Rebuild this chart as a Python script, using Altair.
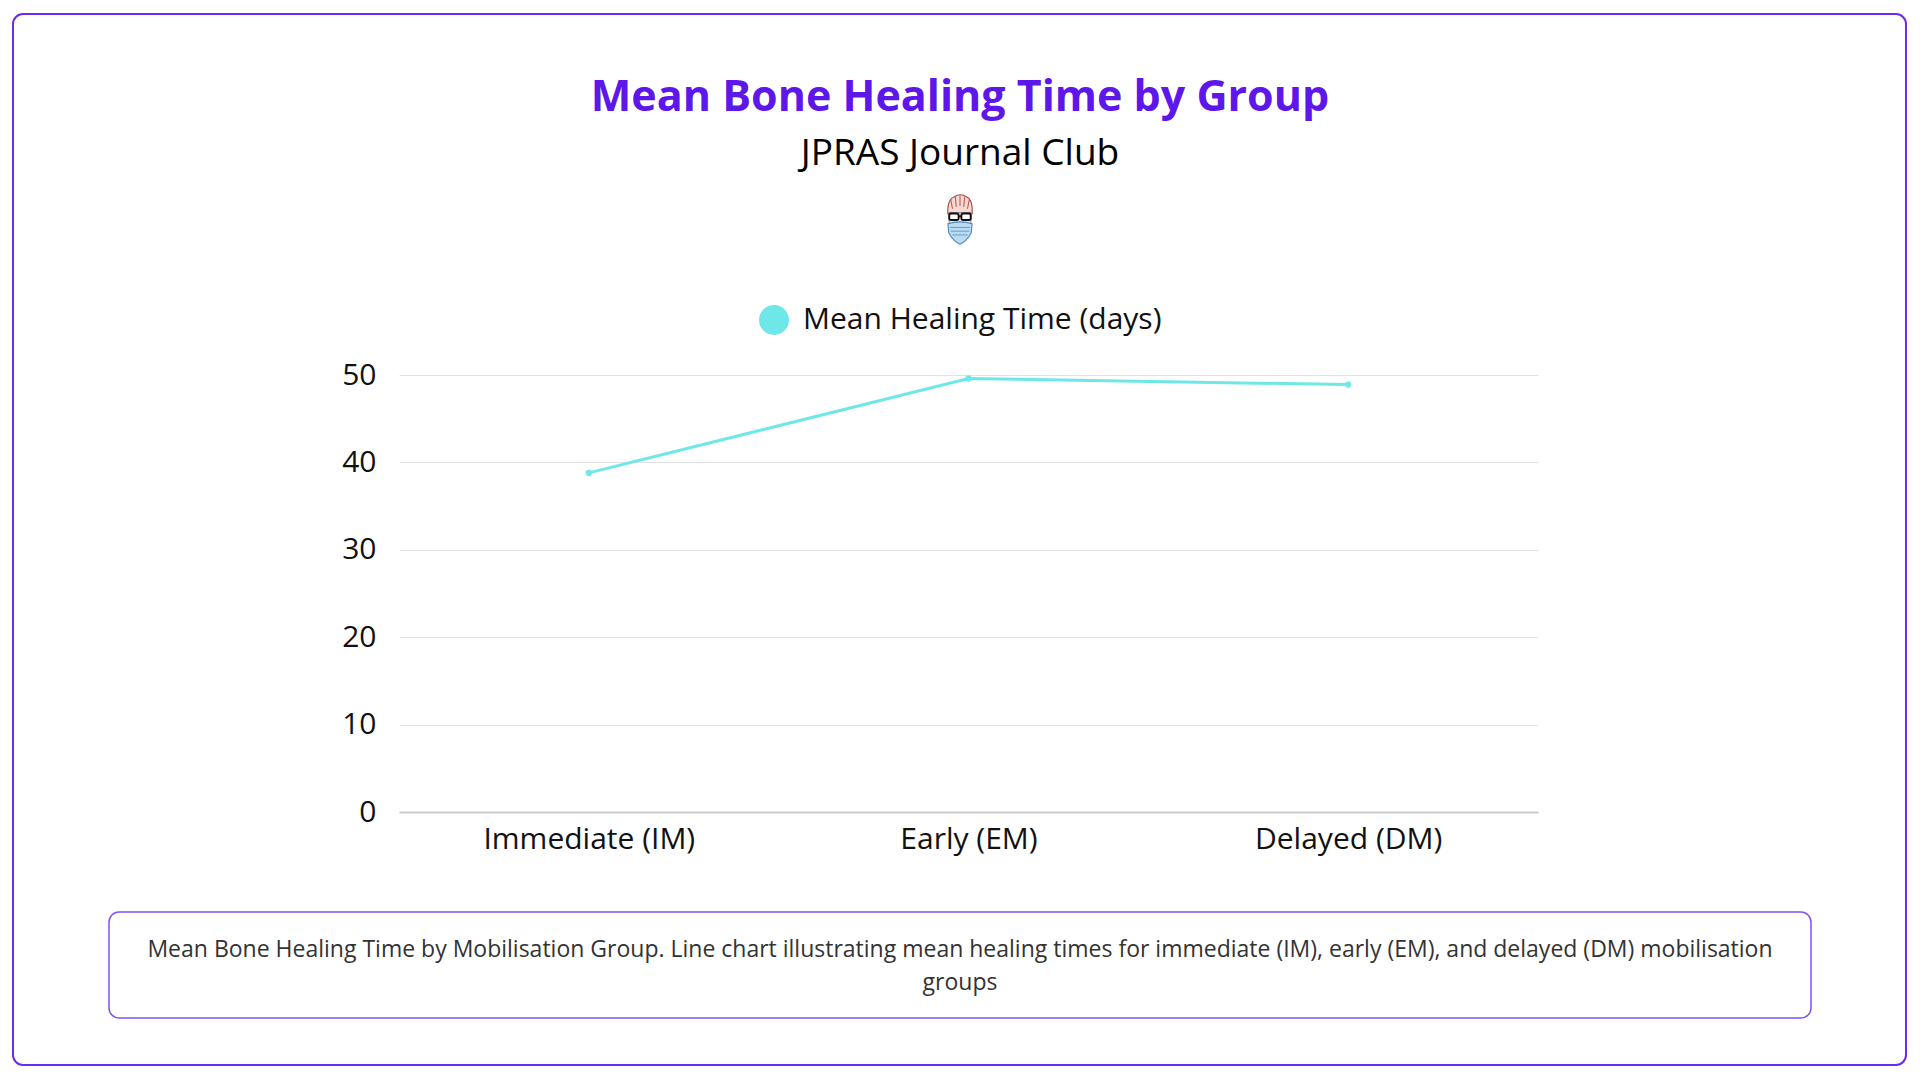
import base64
import altair as alt
import pandas as pd

# ---- data ----
groups = ["Immediate (IM)", "Early (EM)", "Delayed (DM)"]
healing_days = [38.8, 49.6, 48.9]
series_name = "Mean Healing Time (days)"
y_ticks = [0, 10, 20, 30, 40, 50]
title_text = "Mean Bone Healing Time by Group"
subtitle_text = "JPRAS Journal Club"
caption_lines = [
    "Mean Bone Healing Time by Mobilisation Group. Line chart illustrating mean healing times for immediate (IM), early (EM), and delayed (DM) mobilisation",
    "groups",
]

df = pd.DataFrame({"group": groups, "days": healing_days, "series": [series_name] * len(groups)})
one = pd.DataFrame({"k": [0]})

W, H = 1139, 437
FONT = "Open Sans"
PURPLE = "#5E17EB"
CYAN = "#6EE7E9"

# small avatar icon (decorative), drawn as inline SVG
icon_svg = """<svg xmlns='http://www.w3.org/2000/svg' width='40' height='60' viewBox='0 0 40 60'>
<path d='M7 24 Q6 8 14 5 Q20 1 27 5 Q34 8 33 24' fill='#f3d9d2' stroke='#b04a44' stroke-width='1.2'/>
<path d='M10 8 L12 18 M15 5 L16 16 M20 4 L20 15 M25 5 L24 16 M30 8 L28 18' stroke='#b04a44' stroke-width='1'/>
<path d='M8 22 Q7 44 20 52 Q33 44 32 22 Z' fill='#f6eeea' stroke='#777' stroke-width='1'/>
<rect x='8.5' y='23' width='10' height='7' rx='2' fill='#fff' stroke='#111' stroke-width='2'/>
<rect x='21.5' y='23' width='10' height='7' rx='2' fill='#fff' stroke='#111' stroke-width='2'/>
<path d='M18.5 26 L21.5 26' stroke='#111' stroke-width='2'/>
<path d='M7 34 Q20 30 33 34 L32 44 Q26 54 20 56 Q14 54 8 44 Z' fill='#b9dcf3' stroke='#4d86bd' stroke-width='1.2'/>
<path d='M9 38 L31 38 M10 42 L30 42 M12 46 L28 46' stroke='#4d86bd' stroke-width='0.8'/>
</svg>"""
icon_uri = "data:image/svg+xml;base64," + base64.b64encode(icon_svg.encode()).decode()

x_enc = alt.X(
    "group:N", sort=groups,
    scale=alt.Scale(type="point", padding=0.5),
    axis=alt.Axis(title=None, labelAngle=0, labelFontSize=30, labelPadding=12, labelFont=FONT,
                  labelLimit=0, labelColor="#111111", domainColor="#cccccc", domainWidth=2,
                  ticks=False, grid=False),
)
y_enc = alt.Y(
    "days:Q",
    scale=alt.Scale(domain=[0, 50]),
    axis=alt.Axis(title=None, values=y_ticks, labelFontSize=30, labelPadding=23, labelFont=FONT,
                  labelColor="#111111", domain=False, ticks=False, gridColor="#e2e2e2", gridWidth=1),
)

base = alt.Chart(df)

line = base.mark_line(color=CYAN, strokeWidth=3).encode(x=x_enc, y=y_enc)
pts = base.mark_circle(size=40, opacity=1).encode(
    x=x_enc, y=y_enc,
    color=alt.Color(
        "series:N",
        scale=alt.Scale(range=[CYAN]),
        legend=alt.Legend(title=None, orient="none", legendX=360, legendY=-70, symbolSize=900,
                          symbolType="circle", labelFontSize=30, labelOffset=14, labelFont=FONT,
                          labelLimit=0, labelColor="#111111", padding=0, symbolStrokeWidth=0),
    ),
)

deco = alt.Chart(one)
outer = deco.mark_rect(fill="white", fillOpacity=0, stroke="#6A2CF0", strokeWidth=2, cornerRadius=10).encode(
    x=alt.value(-386), x2=alt.value(1507), y=alt.value(-361), y2=alt.value(690))
capbox = deco.mark_rect(fill="white", fillOpacity=0, stroke="#8052F2", strokeWidth=1.5, cornerRadius=10).encode(
    x=alt.value(-290), x2=alt.value(1412), y=alt.value(537), y2=alt.value(643))
title = deco.mark_text(text=title_text, font=FONT, fontSize=43, fontWeight="bold", color=PURPLE,
                       align="center", baseline="alphabetic").encode(x=alt.value(561), y=alt.value(-264))
subtitle = deco.mark_text(text=subtitle_text, font=FONT, fontSize=37, color="#000000",
                          align="center", baseline="alphabetic").encode(x=alt.value(561), y=alt.value(-210))
icon = deco.mark_image(width=38, height=56).encode(
    x=alt.value(561), y=alt.value(-155), url=alt.value(icon_uri))
cap1 = deco.mark_text(text=caption_lines[0], font=FONT, fontSize=23, color="#333333",
                      align="center", baseline="middle").encode(x=alt.value(561), y=alt.value(575))
cap2 = deco.mark_text(text=caption_lines[1], font=FONT, fontSize=23, color="#333333",
                      align="center", baseline="middle").encode(x=alt.value(561), y=alt.value(608))

chart = alt.layer(outer, capbox, title, subtitle, icon, cap1, cap2, line, pts).properties(
    width=W, height=H,
    autosize=alt.AutoSizeParams(type="none"),
    padding={"left": 391, "top": 367, "right": 374, "bottom": 260},
    background="white",
).configure_view(strokeWidth=0)

chart.save("out.html", embed_options={"renderer": "svg", "actions": False})
